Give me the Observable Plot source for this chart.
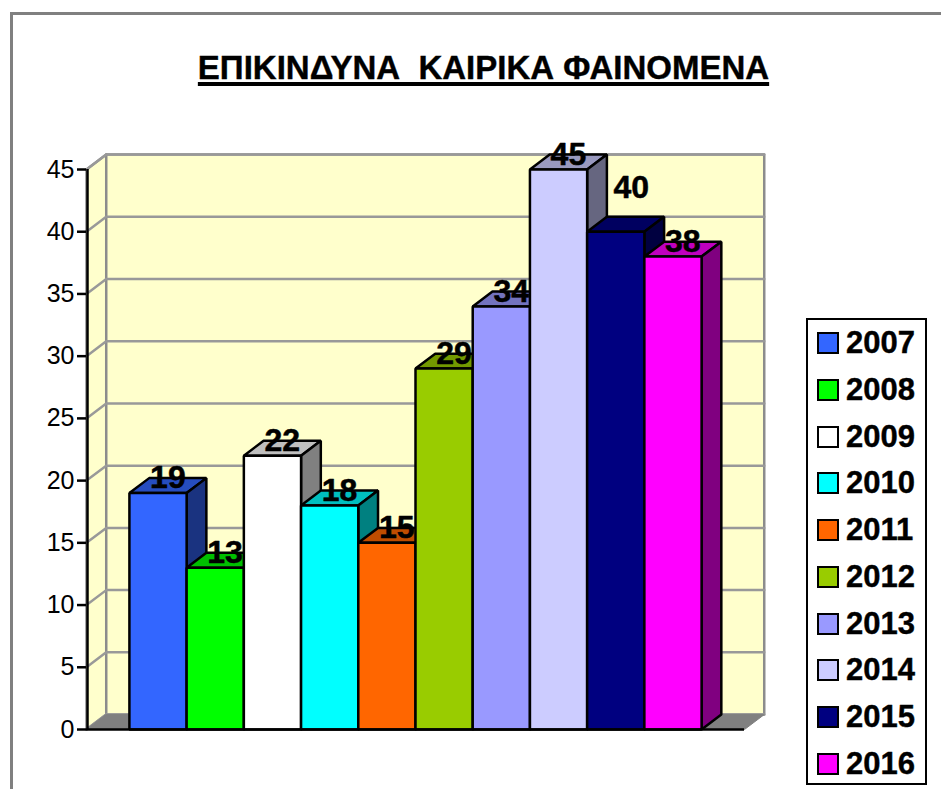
<!DOCTYPE html>
<html>
<head>
<meta charset="utf-8">
<script src="https://cdn.jsdelivr.net/npm/d3@7"></script>
<script src="https://cdn.jsdelivr.net/npm/@observablehq/plot@0.6"></script>
<style>
html,body{margin:0;padding:0;background:#fff;overflow:hidden}
#page{position:relative;width:941px;height:789px;overflow:hidden;font-family:"Liberation Sans",Arial,sans-serif}
#frame{position:absolute;left:10px;top:12px;right:-10px;bottom:-10px;border:3px solid #808080}
#title{position:absolute;left:0;top:48px;width:967px;text-align:center;font-size:33px;line-height:40px;font-weight:bold;color:#000;white-space:pre;text-decoration:underline;text-decoration-thickness:4px;text-underline-offset:3px;-webkit-text-stroke:0.4px #000}
#legend{position:absolute;left:806px;top:318px;width:117px;height:463px;border:2px solid #000;background:#fff;padding:0;box-sizing:content-box}
.row{position:absolute;left:9px;height:24px;display:flex;align-items:center}
.sw{width:18px;height:18px;border:2px solid #000;box-sizing:content-box;margin-right:7px}
.lb{font-size:31px;font-weight:bold;color:#000;line-height:24px;-webkit-text-stroke:0.4px #000}
svg{position:absolute;left:0;top:0}
</style>
</head>
<body>
<div id="page">
<div id="frame"></div>
<div id="chart"></div>
<div id="title">ΕΠΙΚΙΝΔΥΝΑ  ΚΑΙΡΙΚΑ ΦΑΙΝΟΜΕΝΑ</div>
<div id="legend"></div>
</div>
<script>
const years = [2007, 2008, 2009, 2010, 2011, 2012, 2013, 2014, 2015, 2016];
const values = [19, 13, 22, 18, 15, 29, 34, 45, 40, 38];
const frontColors = ["#3366FF","#00FF00","#FFFFFF","#00FFFF","#FF6600","#99CC00","#9999FF","#CCCCFF","#000080","#FF00FF"];
const yTicks = [0, 5, 10, 15, 20, 25, 30, 35, 40, 45];
const titleText = "ΕΠΙΚΙΝΔΥΝΑ  ΚΑΙΡΙΚΑ ΦΑΙΝΟΜΕΝΑ";

// depth of the pseudo-3D view, in scale units
const DX = 0.345, DY = 1.2;
const X0 = -0.75, X1 = 10.75, YMAX = 45;

function shade(c, k) {
  const r = d3.rgb(c);
  return d3.rgb(r.r * k, r.g * k, r.b * k).formatHex();
}

const faces = [];
function face(id, color, pts) {
  pts.forEach(([x, y]) => faces.push({id, color, x, y}));
}
values.forEach((v, i) => {
  const c = frontColors[i];
  face(`t${i}`, shade(c, 0.75), [[i, v], [i + 1, v], [i + 1 + DX, v + DY], [i + DX, v + DY]]);
  face(`s${i}`, shade(c, 0.5), [[i + 1, 0], [i + 1 + DX, DY], [i + 1 + DX, v + DY], [i + 1, v]]);
  face(`f${i}`, c, [[i, 0], [i + 1, 0], [i + 1, v], [i, v]]);
});

const wall = [
  {id: "side", x: X0, y: 0}, {id: "side", x: X0 + DX, y: DY},
  {id: "side", x: X0 + DX, y: YMAX + DY}, {id: "side", x: X0, y: YMAX},
  {id: "back", x: X0 + DX, y: DY}, {id: "back", x: X1 + DX, y: DY},
  {id: "back", x: X1 + DX, y: YMAX + DY}, {id: "back", x: X0 + DX, y: YMAX + DY}
];
const floor = [
  {x: X0, y: 0}, {x: X1, y: 0}, {x: X1 + DX, y: DY}, {x: X0 + DX, y: DY}
];
const grid = yTicks.flatMap(t => [
  {t, x: X0, y: t}, {t, x: X0 + DX, y: t + DY}, {t, x: X1 + DX, y: t + DY}
]);
const labels = values.map((v, i) => ({year: years[i], v, i}));
const isRaised = d => d.year === 2015;

const chart = Plot.plot({
  width: 941, height: 789,
  marginLeft: 86, marginRight: 197, marginTop: 169, marginBottom: 60,
  style: {background: "transparent", fontFamily: '"Liberation Sans", Arial, sans-serif', overflow: "visible"},
  x: {domain: [X0, X1], axis: null},
  y: {domain: [0, YMAX], axis: null},
  marks: [
    Plot.line(wall, {x: "x", y: "y", z: "id", fill: "#FFFFCC", stroke: "#8C8C8C", strokeWidth: 2.5, curve: "linear-closed"}),
    Plot.line(grid, {x: "x", y: "y", z: "t", stroke: "#999999", strokeWidth: 2.5}),
    Plot.line(floor, {x: "x", y: "y", fill: "#808080", stroke: "#808080", strokeWidth: 1, curve: "linear-closed"}),
    Plot.line(faces, {x: "x", y: "y", z: "id", fill: {value: "color", scale: null}, stroke: "#000", strokeWidth: 2.5, strokeLinejoin: "miter", curve: "linear-closed"}),
    Plot.ruleX([X0], {y1: 0, y2: YMAX, stroke: "#000", strokeWidth: 2.5, dx: 1}),
    Plot.ruleY([0], {x1: X0, x2: X1, stroke: "#000", strokeWidth: 2.5}),
    Plot.axisY({ticks: yTicks, tickSize: 9, tickPadding: 3, fontSize: 25, label: null, stroke: "#000", strokeWidth: 2.5, color: "#000", tickFormat: d => String(d), x: X0}),
    Plot.text(labels, {
      x: d => d.i + 0.5 + DX / 2 + (isRaised(d) ? 0.1 : 0),
      y: d => d.v + DY + (isRaised(d) ? 2.3 : 0),
      text: d => String(d.v),
      fontSize: 32, fontWeight: "bold", fill: "#000", stroke: "#000", strokeWidth: 0.5, textAnchor: "middle", lineAnchor: "middle"
    })
  ]
});
document.getElementById("chart").appendChild(chart);
document.getElementById("title").textContent = titleText;

const legend = document.getElementById("legend");
years.forEach((y, i) => {
  const row = document.createElement("div");
  row.className = "row";
  row.style.top = (11 + i * 46.75) + "px";
  const sw = document.createElement("div");
  sw.className = "sw";
  sw.style.background = frontColors[i];
  const lb = document.createElement("div");
  lb.className = "lb";
  lb.textContent = String(y);
  row.append(sw, lb);
  legend.appendChild(row);
});
</script>
</body>
</html>
